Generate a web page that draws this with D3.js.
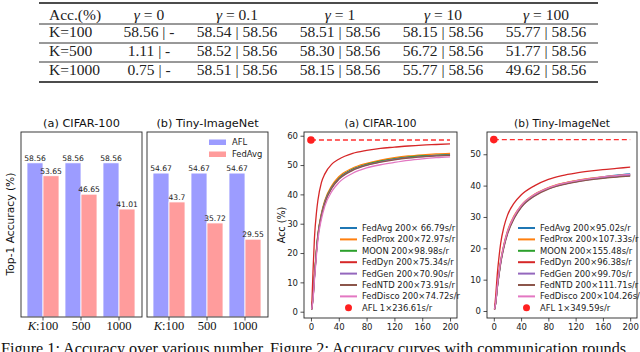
<!DOCTYPE html>
<html><head><meta charset="utf-8">
<script src="https://cdn.jsdelivr.net/npm/d3@7"></script>
<style>
html,body{margin:0;padding:0;background:#fff;}
svg{display:block;}
.serif{font-family:"Liberation Serif","Times New Roman",serif;}
.sans{font-family:"DejaVu Sans",sans-serif;}
</style></head>
<body>
<svg id="fig" width="640" height="352"></svg>
<script>
// ---------------- DATA ----------------
const tableHeader = ["Acc.(%)", "0", "0.1", "1", "10", "100"];
const tableRowLabels = ["K=100", "K=500", "K=1000"];
const tableCells = [
  ["58.56 | -", "58.54 | 58.56", "58.51 | 58.56", "58.15 | 58.56", "55.77 | 58.56"],
  ["1.11 | -",  "58.52 | 58.56", "58.30 | 58.56", "56.72 | 58.56", "51.77 | 58.56"],
  ["0.75 | -",  "58.51 | 58.56", "58.15 | 58.56", "55.77 | 58.56", "49.62 | 58.56"]
];

const barCategories = ["100", "500", "1000"];
const barSeries = ["AFL", "FedAvg"];
const cifarAFL = [58.56, 58.56, 58.56];
const cifarFedAvg = [53.65, 46.65, 41.01];
const tinyAFL = [54.67, 54.67, 54.67];
const tinyFedAvg = [43.7, 35.72, 29.55];

const rounds = [1, 3, 5, 8, 10, 15, 20, 30, 40, 60, 80, 100, 120, 140, 160, 180, 200];
const methods = ["FedAvg", "FedProx", "MOON", "FedDyn", "FedGen", "FedNTD", "FedDisco"];
const cifarCurves = {
  FedAvg:   [0.8, 5.0, 12.0, 21.0, 26.0, 33.0, 37.5, 42.5, 45.5, 48.6, 50.3, 51.4, 52.2, 52.8, 53.2, 53.4, 53.65],
  FedProx:  [0.8, 5.5, 12.5, 21.5, 26.5, 33.5, 38.0, 43.0, 46.0, 49.0, 50.6, 51.7, 52.5, 53.1, 53.5, 53.8, 54.0],
  MOON:     [0.8, 5.0, 12.0, 21.0, 26.0, 33.0, 37.5, 42.5, 45.4, 48.5, 50.2, 51.3, 52.1, 52.7, 53.1, 53.3, 53.5],
  FedDyn:   [0.8, 14.0, 25.0, 34.0, 38.0, 44.0, 47.0, 50.3, 52.0, 54.0, 55.0, 55.7, 56.1, 56.5, 56.8, 57.0, 57.2],
  FedGen:   [0.8, 4.8, 11.8, 20.8, 25.8, 32.8, 37.3, 42.3, 45.2, 48.3, 50.0, 51.1, 51.9, 52.5, 52.9, 53.2, 53.4],
  FedNTD:   [0.8, 4.7, 11.5, 20.5, 25.5, 32.5, 37.0, 42.1, 45.1, 48.2, 49.9, 51.0, 51.8, 52.4, 52.8, 53.1, 53.3],
  FedDisco: [0.8, 4.2, 10.8, 19.5, 24.5, 31.5, 36.0, 41.0, 44.0, 47.2, 49.0, 50.1, 50.9, 51.6, 52.1, 52.5, 52.8]
};
const tinyCurves = {
  FedAvg:   [0.5, 3.0, 7.5, 12.5, 15.5, 21.0, 25.0, 30.0, 33.3, 37.0, 39.2, 40.6, 41.5, 42.2, 42.8, 43.3, 43.7],
  FedProx:  [0.5, 3.2, 8.0, 13.0, 16.0, 21.5, 25.5, 30.5, 33.7, 37.3, 39.4, 40.7, 41.6, 42.3, 42.8, 43.2, 43.5],
  MOON:     [0.5, 3.0, 7.5, 12.5, 15.5, 21.0, 25.0, 30.0, 33.3, 37.0, 39.1, 40.4, 41.3, 42.0, 42.5, 42.9, 43.2],
  FedDyn:   [0.5, 5.5, 11.5, 18.0, 21.5, 27.0, 30.5, 34.5, 37.0, 40.0, 42.0, 43.2, 44.0, 44.6, 45.1, 45.5, 45.9],
  FedGen:   [0.5, 2.9, 7.3, 12.3, 15.3, 20.8, 24.8, 29.8, 33.1, 36.8, 39.0, 40.3, 41.2, 41.9, 42.5, 42.9, 43.3],
  FedNTD:   [0.5, 2.8, 7.1, 12.0, 15.0, 20.5, 24.5, 29.6, 33.0, 36.7, 38.9, 40.2, 41.1, 41.8, 42.3, 42.7, 43.0],
  FedDisco: [0.5, 3.1, 7.8, 12.8, 15.8, 21.3, 25.3, 30.3, 33.6, 37.2, 39.3, 40.6, 41.5, 42.2, 42.8, 43.2, 43.6]
};
const cifarLegend = ["FedAvg 200\u00d7 66.79s/r", "FedProx 200\u00d772.97s/r", "MOON 200\u00d798.98s/r", "FedDyn 200\u00d775.34s/r", "FedGen 200\u00d770.90s/r", "FedNTD 200\u00d773.91s/r", "FedDisco 200\u00d774.72s/r", "AFL 1\u00d7236.61s/r"];
const tinyLegend = ["FedAvg 200\u00d795.02s/r", "FedProx 200\u00d7107.33s/r", "MOON 200\u00d7155.48s/r", "FedDyn 200\u00d796.38s/r", "FedGen 200\u00d799.70s/r", "FedNTD 200\u00d7111.71s/r", "FedDisco 200\u00d7104.26s/r", "AFL 1\u00d7349.59s/r"];
const aflCifar = 58.56, aflTiny = 54.67;
const xTicksLine = [0, 40, 80, 120, 160, 200];
const captions = ["Figure 1: Accuracy over various number", "Figure 2: Accuracy curves with communication rounds"];

// ---------------- STYLE ----------------
const methodColors = {FedAvg:"#1f77b4", FedProx:"#ff7f0e", MOON:"#2ca02c", FedDyn:"#d62728", FedGen:"#9467bd", FedNTD:"#8c564b", FedDisco:"#e377c2"};
const barColors = {AFL:"#9c9cff", FedAvg:"#ff9c9c"};
const axisColor = "#262626";

const svg = d3.select("#fig");
svg.append("rect").attr("width",640).attr("height",352).attr("fill","#fff");

// ---------------- TABLE ----------------
(function(){
  const g = svg.append("g").attr("class","serif");
  const left = 39, right = 598;
  const colCenters = [null, 149, 237, 340, 443, 546];
  const headerBase = 19.5, rowBase = [37, 56, 74.5];
  const fs = 15.5;
  g.append("line").attr("x1",left).attr("x2",right).attr("y1",3).attr("y2",3).attr("stroke","#111").attr("stroke-width",1.6);
  [24, 43, 62].forEach(y => g.append("line").attr("x1",left).attr("x2",right).attr("y1",y).attr("y2",y).attr("stroke","#333").attr("stroke-width",1));
  g.append("line").attr("x1",left).attr("x2",right).attr("y1",82).attr("y2",82).attr("stroke","#111").attr("stroke-width",1.6);
  g.append("text").attr("x",49).attr("y",headerBase).attr("font-size",fs).attr("fill","#222").text(tableHeader[0]);
  tableHeader.slice(1).forEach((h,i) => {
    const t = g.append("text").attr("x",colCenters[i+1]).attr("y",headerBase).attr("text-anchor","middle").attr("font-size",fs).attr("fill","#222");
    t.append("tspan").attr("font-style","italic").text("\u03b3");
    t.append("tspan").text(" = " + h);
  });
  tableRowLabels.forEach((r,ri) => {
    g.append("text").attr("x",49).attr("y",rowBase[ri]).attr("font-size",fs).attr("fill","#222").text(r);
    tableCells[ri].forEach((c,ci) => {
      g.append("text").attr("x",colCenters[ci+1]).attr("y",rowBase[ri]).attr("text-anchor","middle").attr("font-size",fs).attr("fill","#222").text(c);
    });
  });
})();

// ---------------- BAR CHARTS ----------------
const barY = d3.scaleLinear().domain([0, 70.27]).range([317, 132]);
function barPanel(x0, x1, title, afl, fed, showLegend){
  const g = svg.append("g");
  const x = d3.scalePoint().domain(barCategories).range([x0+22, x1-23]);
  const bw = 16;
  const series = [afl, fed];
  series.forEach((vals,si) => {
    g.selectAll(null).data(vals).enter().append("rect")
      .attr("x",(d,i)=> x(barCategories[i]) + (si===0 ? -bw : 0))
      .attr("y",d=>barY(d)).attr("width",bw).attr("height",d=>barY(0)-barY(d))
      .attr("fill",barColors[barSeries[si]]).attr("stroke","#fff").attr("stroke-width",0.8);
    g.selectAll(null).data(vals).enter().append("text")
      .attr("class","sans").attr("x",(d,i)=> x(barCategories[i]) + (si===0 ? -bw/2 : bw/2))
      .attr("y",d=>barY(d)-2).attr("text-anchor","middle").attr("font-size",7.6).attr("fill","#222")
      .text(d=>d);
  });
  g.append("rect").attr("x",x0).attr("y",132).attr("width",x1-x0).attr("height",185).attr("fill","none").attr("stroke",axisColor).attr("stroke-width",0.9);
  barCategories.forEach((c,i) => {
    g.append("line").attr("x1",x(c)).attr("x2",x(c)).attr("y1",317).attr("y2",320.5).attr("stroke",axisColor).attr("stroke-width",0.8);
    const t = g.append("text").attr("class","serif").attr("x",x(c)).attr("y",329.5).attr("text-anchor","middle").attr("font-size",12.5).attr("fill","#111");
    if(i===0){ t.append("tspan").attr("font-style","italic").text("K"); t.append("tspan").text(":" + c); }
    else t.text(c);
  });
  g.append("text").attr("class","sans").attr("x",(x0+x1)/2).attr("y",127).attr("text-anchor","middle").attr("font-size",11.3).attr("fill","#111").text(title);
  if(showLegend){
    barSeries.forEach((s,i) => {
      g.append("rect").attr("x",209).attr("y",139.5+i*12).attr("width",17).attr("height",5.5).attr("fill",barColors[s]);
      g.append("text").attr("class","sans").attr("x",232).attr("y",145.3+i*12).attr("font-size",8.4).attr("fill","#222").text(s);
    });
  }
}
barPanel(21, 142, "(a) CIFAR-100", cifarAFL, cifarFedAvg, false);
barPanel(147, 268, "(b) Tiny-ImageNet", tinyAFL, tinyFedAvg, true);
svg.append("text").attr("class","sans").attr("transform","translate(14,224) rotate(-90)").attr("text-anchor","middle").attr("font-size",10.7).attr("fill","#111").text("Top-1 Accuracy (%)");

// ---------------- LINE CHARTS ----------------
function linePanel(x0, x1, yDomain, yTicks, title, curves, afl, legend, legX){
  const g = svg.append("g");
  const x = d3.scaleLinear().domain([-10, 210]).range([x0, x1]);
  const y = d3.scaleLinear().domain(yDomain).range([318, 132]);
  const line = d3.line().x((d,i)=>x(rounds[i])).y(d=>y(d)).curve(d3.curveMonotoneX);
  methods.forEach(m => {
    g.append("path").attr("d",line(curves[m])).attr("fill","none").attr("stroke",methodColors[m]).attr("stroke-width",1.3);
  });
  g.append("line").attr("x1",x(0)).attr("x2",x(200)).attr("y1",y(afl)).attr("y2",y(afl)).attr("stroke","#ff3030").attr("stroke-width",1.4).attr("stroke-dasharray","5,3");
  g.append("circle").attr("cx",x(0)).attr("cy",y(afl)).attr("r",3.8).attr("fill","#ff2020");
  const ax = g.append("g").attr("transform","translate(0,318)").call(d3.axisBottom(x).tickValues(xTicksLine).tickSize(3.5).tickPadding(2.5));
  const ay = g.append("g").attr("transform",`translate(${x0},0)`).call(d3.axisLeft(y).tickValues(yTicks).tickSize(3.5).tickPadding(2.5));
  [ax, ay].forEach(a => {
    a.select(".domain").remove();
    a.selectAll("line").attr("stroke",axisColor).attr("stroke-width",0.8);
    a.selectAll("text").attr("font-family","DejaVu Sans").attr("font-size",8.5).attr("fill","#222");
  });
  g.append("rect").attr("x",x0).attr("y",132).attr("width",x1-x0).attr("height",186).attr("fill","none").attr("stroke",axisColor).attr("stroke-width",0.9);
  g.append("text").attr("class","sans").attr("x",(x0+x1)/2).attr("y",127).attr("text-anchor","middle").attr("font-size",10.6).attr("fill","#111").text(title);
  // legend
  const items = methods.concat(["AFL"]);
  items.forEach((m,i) => {
    const yy = 228 + i*11.4;
    if(m === "AFL"){
      g.append("circle").attr("cx",legX+8.5).attr("cy",yy).attr("r",3.5).attr("fill","#ff2020");
    } else {
      g.append("line").attr("x1",legX).attr("x2",legX+17).attr("y1",yy).attr("y2",yy).attr("stroke",methodColors[m]).attr("stroke-width",2);
    }
    g.append("text").attr("class","sans").attr("x",legX+22).attr("y",yy+3).attr("font-size",8.4).attr("fill","#222").text(legend[i]);
  });
}
linePanel(304, 457, [-2.15, 61.27], [0,10,20,30,40,50,60], "(a) CIFAR-100", cifarCurves, aflCifar, cifarLegend, 340);
linePanel(487, 637, [-2.23, 57.1], [0,10,20,30,40,50], "(b) Tiny-ImageNet", tinyCurves, aflTiny, tinyLegend, 518);
svg.append("text").attr("class","sans").attr("transform","translate(285,225) rotate(-90)").attr("text-anchor","middle").attr("font-size",9.6).attr("fill","#111").text("Acc (%)");

// ---------------- CAPTIONS ----------------
svg.append("text").attr("class","serif").attr("x",1).attr("y",354).attr("font-size",16.2).attr("fill","#111").text(captions[0]);
svg.append("text").attr("class","serif").attr("x",270).attr("y",354).attr("font-size",16.2).attr("fill","#111").text(captions[1]);
</script>
</body></html>
